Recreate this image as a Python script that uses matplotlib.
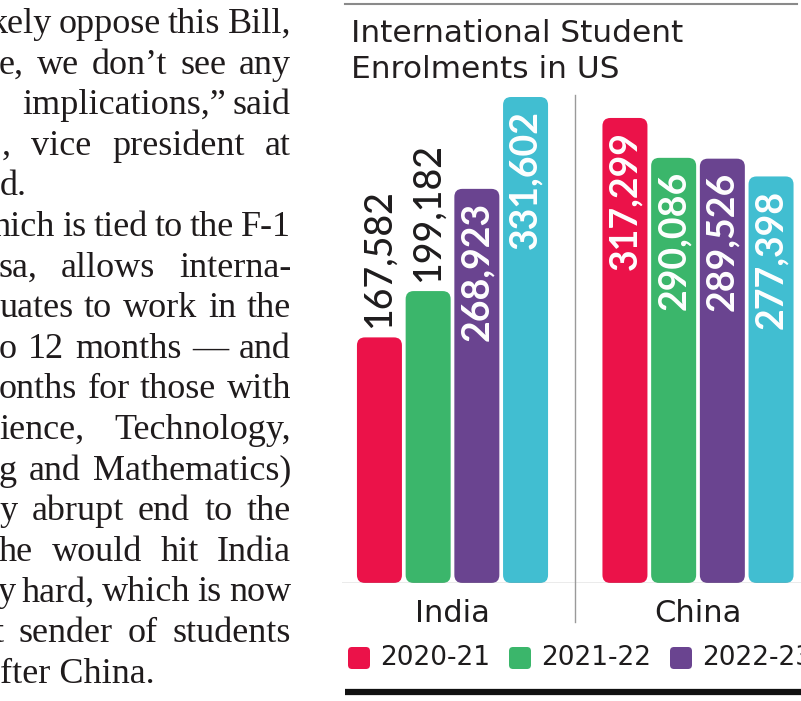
import matplotlib
matplotlib.use('Agg')
import numpy as np
import matplotlib.pyplot as plt
from matplotlib.patches import FancyBboxPatch
from matplotlib.lines import Line2D

# chart data
countries = ['India', 'China']
seasons = ['2020-21', '2021-22', '2022-23', '2023-24']
india = [167582, 199182, 268923, 331602]
china = [317299, 290086, 289526, 277398]
colors = ['#EB1249', '#3BB66B', '#6A4490', '#41BED1']
title_lines = ["International Student", "Enrolments in US"]
inside_min = 200000   # smaller bars get their number above the bar

# article column next to the chart (cut off on the left)
article = [
    "kely oppose this Bill,",
    "e, we don\u2019t see any",
    "implications,\u201d said",
    ", vice president at",
    "d.",
    "hich is tied to the F-1",
    "sa, allows interna-",
    "uates to work in the",
    "o 12 months \u2014 and",
    "onths for those with",
    "ience, Technology,",
    "g and Mathematics)",
    "y abrupt end to the",
    "he would hit India",
    "y hard, which is now",
    "t sender of students",
    "fter China.",
]
para_ends = [4, 16]          # short last lines, not justified
line_starts = {2: 30, 3: 2, 15: -6}

W, H = 801, 701
fig = plt.figure(figsize=(W / 100, H / 100), dpi=100)
fig.patch.set_facecolor('white')
ink = '#1e1c1d'
sans = 'DejaVu Sans'

# axes laid out in pixel terms
ax_l, base_y, top_y = 342, 583, 80
ax = fig.add_axes([ax_l / W, 1 - base_y / H, (W - ax_l) / W, (base_y - top_y) / H])
ymax = 343200
ax.set_ylim(0, ymax)
grp = 245.5                      # px between group centres
c0 = 452.5                       # px of first group centre
ax.set_xlim((ax_l - c0) / grp, (W - c0) / grp)
ax.axis('off')
ypp = ymax / (base_y - top_y)    # data units per pixel
xpp = 1 / grp
aspect = ypp / xpp

data = np.array([india, china])
x = np.arange(len(countries))
step, width = 48.7 / grp, 45 / grp
rad = 8 * xpp

for i, (season, col) in enumerate(zip(seasons, colors)):
    bars = ax.bar(x + (i - 1.5) * step, data[:, i], width=width, color=col)
    for rect, val in zip(bars, data[:, i]):
        bx, bw, bh = rect.get_x(), rect.get_width(), rect.get_height()
        rect.set_visible(False)
        ax.add_patch(FancyBboxPatch((bx, 0), bw, bh,
                                    boxstyle=f"round,pad=0,rounding_size={rad}",
                                    mutation_aspect=aspect, fc=col, ec='none'))
        cx = bx + bw / 2
        lab = f"{val:,}"
        if val >= inside_min:
            ax.text(cx, bh - 13 * ypp, lab, rotation=90, ha='center', va='top',
                    color='white', fontsize=27, fontweight='bold', family='Lato')
        else:
            ax.text(cx, bh + 9 * ypp, lab, rotation=90, ha='center', va='bottom',
                    color=ink, fontsize=27, fontweight='medium', family='Lato')

ax.axhline(0, color='#9a9a9a', lw=1)
ax.plot([0.5, 0.5], [(base_y - 95) * ypp, -(622 - base_y) * ypp],
        color='#9a9a9a', lw=1, clip_on=False)

for i, name in enumerate(countries):
    ax.text(i, -(622 - base_y) * ypp, name, ha='center', va='baseline',
            fontsize=22, family=sans, color=ink)

# legend row
leg_y = -(658 - base_y) * ypp
sq = 22
for i, (season, col) in enumerate(zip(seasons, colors)):
    px = 348 + i * 161
    if px > W:
        continue
    lx = (px - c0) / grp
    ax.add_patch(FancyBboxPatch((lx, leg_y - sq / 2 * ypp), sq * xpp, sq * ypp,
                                boxstyle=f"round,pad=0,rounding_size={4 * xpp}",
                                mutation_aspect=aspect, fc=col, ec='none',
                                clip_on=False))
    ax.text(lx + 32 * xpp, leg_y, season, ha='left', va='center',
            fontsize=19, family=sans, color=ink, clip_on=False)

for n, line in enumerate(title_lines):
    fig.text(351 / W, 1 - (42 + n * 35.5) / H, line, ha='left', va='baseline',
             fontsize=22.5, family=sans, color='#231f20')

fig.add_artist(Line2D([345 / W, 797 / W], [1 - 4 / H] * 2, color='#8a8a8a', lw=1.5))
fig.add_artist(Line2D([345 / W, 1], [1 - 692 / H] * 2, color='#111111', lw=4.5,
                      solid_capstyle='butt'))

# justified article text; a line too long for the column slides off the left edge
renderer = fig.canvas.get_renderer()
right = 291
min_gap = 7
for n, line in enumerate(article):
    yb = 1 - (33 + n * 40.6) / H
    kw = dict(va='baseline', ha='left', fontsize=26, family='Liberation Serif',
              color='#1f1b1c')
    if n in para_ends:
        fig.text(0, yb, line, **kw)
        continue
    words = line.split(' ')
    objs = [fig.text(0, yb, w, **kw) for w in words]
    ws = [o.get_window_extent(renderer).width for o in objs]
    ngaps = max(len(words) - 1, 1)
    x0 = line_starts.get(n, -1)
    gap = (right - x0 - sum(ws)) / ngaps
    if gap < min_gap:
        gap = min_gap
        x0 = right - sum(ws) - gap * ngaps
    xp = x0
    for o, w in zip(objs, ws):
        o.set_x(xp / W)
        xp += w + gap

fig.savefig('out.png', dpi=100)
